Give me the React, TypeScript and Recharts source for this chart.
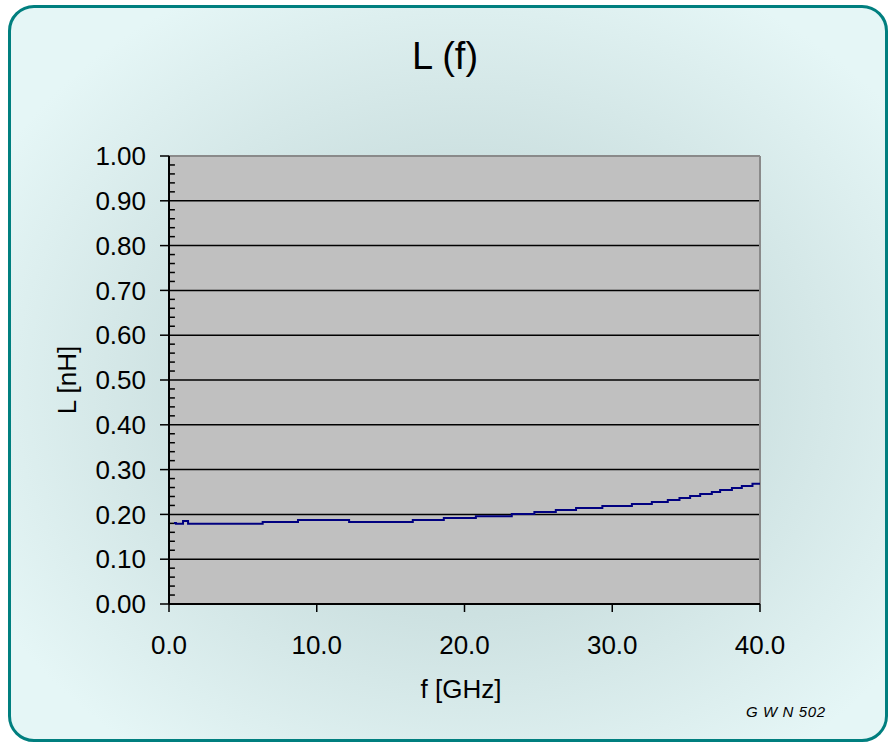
import React from "react"
import {
  LineChart,
  Line,
  XAxis,
  YAxis,
  CartesianGrid,
  ReferenceLine,
} from "recharts"

// frequency points (GHz) where the measured inductance changes
const freqGHz = [
  0.34, 0.47, 0.95, 1.29, 6.34, 8.73, 12.19, 16.5, 18.6, 20.77, 23.2, 24.73,
  26.18, 27.55, 29.33, 31.33, 32.68, 33.76, 34.55, 35.27, 35.95, 36.74, 37.3,
  38.1, 38.77, 39.49, 40.0,
]

// inductance L (nH) at each frequency point
const inductanceNH = [
  0.181, 0.179, 0.185, 0.179, 0.183, 0.1875, 0.183, 0.1875, 0.192, 0.196,
  0.201, 0.2055, 0.21, 0.2143, 0.2188, 0.2232, 0.2277, 0.2321, 0.2366, 0.2411,
  0.2455, 0.25, 0.2545, 0.2589, 0.2634, 0.2685, 0.2685,
]

const xTicks = [0, 10, 20, 30, 40]
const yTicks = [0, 0.1, 0.2, 0.3, 0.4, 0.5, 0.6, 0.7, 0.8, 0.9, 1.0]
const yMinorTicks = [
  0.02, 0.04, 0.06, 0.08, 0.12, 0.14, 0.16, 0.18, 0.22, 0.24, 0.26, 0.28,
  0.32, 0.34, 0.36, 0.38, 0.42, 0.44, 0.46, 0.48, 0.52, 0.54, 0.56, 0.58,
  0.62, 0.64, 0.66, 0.68, 0.72, 0.74, 0.76, 0.78, 0.82, 0.84, 0.86, 0.88,
  0.92, 0.94, 0.96, 0.98,
]

const data = freqGHz.map((f, i) => ({ f, L: inductanceNH[i] }))

const font = '"Liberation Sans", Arial, sans-serif'

export default function App() {
  return (
    <div style={{ position: "absolute", left: 0, top: 0, width: 888, height: 743 }}>
      <div
        style={{
          position: "absolute",
          left: 8,
          top: 5,
          width: 874,
          height: 731,
          border: "3px solid #007f7f",
          borderRadius: 26,
          background:
            "radial-gradient(ellipse 62% 62% at 52% 52%, #c4d9d9 0%, #cde1e1 50%, #e5f6f6 100%)",
        }}
      />
      <div
        style={{
          position: "absolute",
          left: 345,
          width: 200,
          top: 34,
          textAlign: "center",
          fontFamily: font,
          fontSize: 38,
          lineHeight: "44px",
          color: "#000",
        }}
      >
        L (f)
      </div>
      <div
        style={{
          position: "absolute",
          left: 67 - 60,
          top: 380 - 16,
          width: 120,
          height: 32,
          lineHeight: "32px",
          textAlign: "center",
          transform: "rotate(-90deg)",
          fontFamily: font,
          fontSize: 26,
          color: "#000",
        }}
      >
        L [nH]
      </div>
      <div
        style={{
          position: "absolute",
          left: 361,
          width: 200,
          top: 671,
          textAlign: "center",
          fontFamily: font,
          fontSize: 26,
          lineHeight: "36px",
          color: "#000",
        }}
      >
        f [GHz]
      </div>
      <div
        style={{
          position: "absolute",
          left: 746,
          top: 703,
          fontFamily: font,
          fontStyle: "italic",
          fontSize: 15,
          letterSpacing: 0.6,
          color: "#000",
          whiteSpace: "pre",
        }}
      >
        G W N 502
      </div>
      <div style={{ position: "absolute", left: 0, top: 0 }}>
        <LineChart
          width={888}
          height={743}
          data={data}
          margin={{ top: 156, right: 128, bottom: 79, left: 49 }}
        >
          <CartesianGrid
            vertical={false}
            stroke="#000"
            strokeWidth={1.5}
            fill="#c0c0c0"
            fillOpacity={1}
          />
          <XAxis
            dataKey="f"
            type="number"
            domain={[0, 40]}
            ticks={xTicks}
            tickFormatter={(v: number) => v.toFixed(1)}
            height={60}
            tickSize={8}
            tickMargin={24}
            axisLine={{ stroke: "#000", strokeWidth: 2 }}
            tickLine={{ stroke: "#000", strokeWidth: 1.5 }}
            tick={{ fill: "#000", fontSize: 26, fontFamily: font }}
          />
          <YAxis
            type="number"
            domain={[0, 1]}
            ticks={yTicks}
            tickFormatter={(v: number) => v.toFixed(2)}
            width={120}
            tickSize={9}
            tickMargin={14}
            axisLine={{ stroke: "#000", strokeWidth: 2 }}
            tickLine={{ stroke: "#000", strokeWidth: 1.5 }}
            tick={{ fill: "#000", fontSize: 26, fontFamily: font }}
          />
          {/* minor ticks on the inside of the value axis */}
          {yMinorTicks.map((v) => (
            <ReferenceLine
              key={v}
              segment={[
                { x: 0, y: v },
                { x: 0.4, y: v },
              ]}
              stroke="#000"
              strokeWidth={1.5}
            />
          ))}
          <ReferenceLine y={1} stroke="#8a8a8a" strokeWidth={2} />
          <ReferenceLine x={40} stroke="#8a8a8a" strokeWidth={2} />
          <Line
            type="stepAfter"
            dataKey="L"
            stroke="#000080"
            strokeWidth={2}
            dot={false}
            isAnimationActive={false}
          />
        </LineChart>
      </div>
    </div>
  )
}
